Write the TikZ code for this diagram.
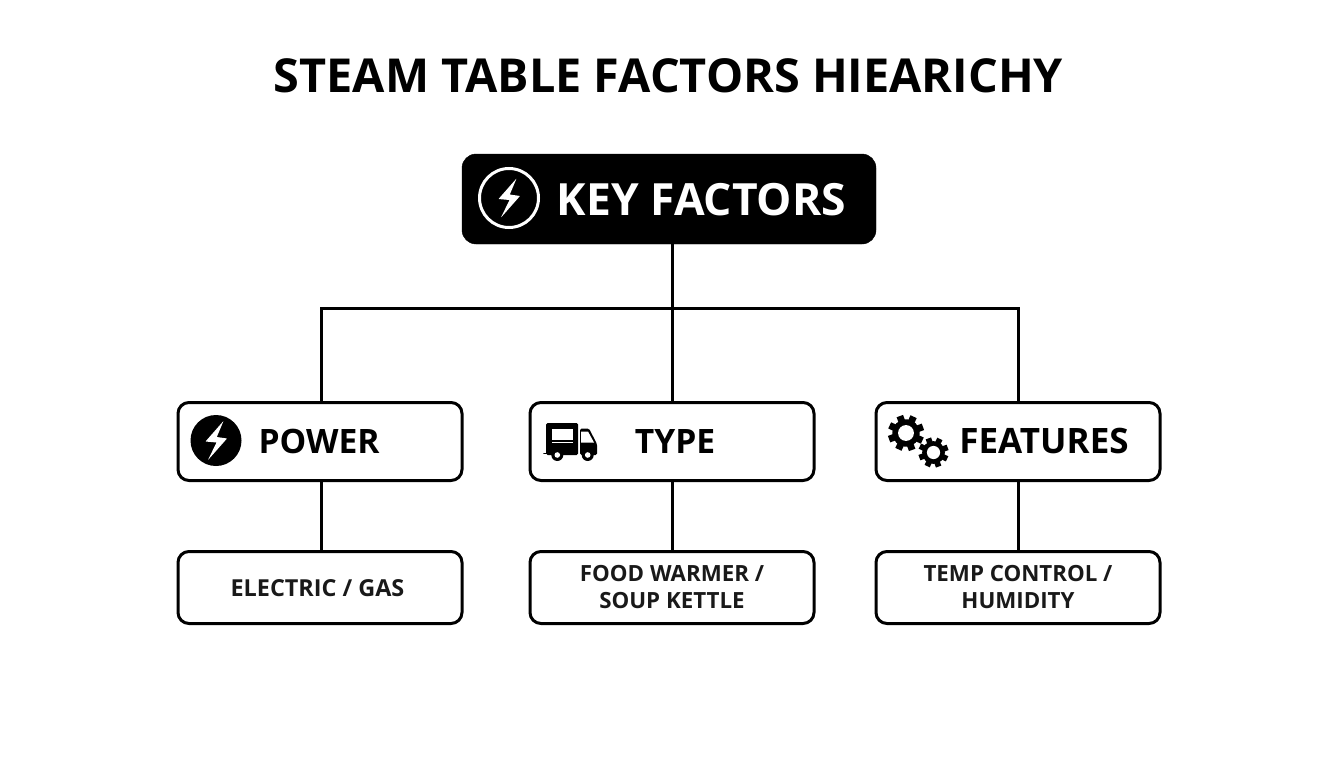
\documentclass[tikz,border=0pt]{standalone}
\usepackage{fontspec}
\setmainfont{Open Sans}
\tikzset{
  x=1pt,y=-1pt,
  wire/.style={line width=3pt,draw=black},
  boxbase/.style={draw=black,line width=3pt,rounded corners=11pt,fill=white,inner sep=0pt,minimum width=284pt},
  midbox/.style={boxbase,minimum height=78pt},
  lowbox/.style={boxbase,minimum height=72pt},
  topbox/.style={fill=black,draw=black,rounded corners=14pt,inner sep=0pt,minimum width=414pt,minimum height=90pt},
  headtext/.style={font=\fontsize{33.6}{40}\selectfont\bfseries,inner sep=0pt},
  subtext/.style={font=\fontsize{22.3}{28}\selectfont\bfseries,align=center,inner sep=0pt,anchor=center,text=black!90},
  titletext/.style={font=\fontsize{46.8}{50}\selectfont\bfseries,inner sep=0pt}
}
\newcommand{\boltshape}[3]{% x y colour
  \fill[#3,rounded corners=0.4pt] (#1+7.5,#2-19.5)--(#1-10.5,#2+1)--(#1+0.5,#2+2)--(#1-8,#2+19.5)--(#1+11,#2-2)--(#1+0.8,#2-3.5)--cycle;}
\newcommand{\gearshape}[3]{% x y r
  \fill[black] (#1,#2) circle[radius=0.76*#3];
  \foreach \a in {0,45,...,315}{
    \fill[black,rotate around={\a+20:(#1,#2)}] (#1-0.19*#3,#2-#3)rectangle(#1+0.19*#3,#2-0.6*#3);}
  \fill[white] (#1,#2) circle[radius=0.44*#3];}
\begin{document}
\begin{tikzpicture}
\useasboundingbox (0,0) rectangle (1344,768);
\fill[white] (0,0) rectangle (1344,768);
\node[titletext] (title) at (668.5,75.8) {STEAM TABLE FACTORS HIEARICHY};
\node[topbox] (key) at (669,199) {};
\node[midbox] (power) at (320,441.5) {};
\node[midbox] (type) at (672,441.5) {};
\node[midbox] (features) at (1018,441.5) {};
\node[lowbox] (elec) at (320,587.5) {};
\node[lowbox] (food) at (672,587.5) {};
\node[lowbox] (temp) at (1018,587.5) {};
\coordinate (bus) at (672,308);
\coordinate (pn) at ([xshift=1.5pt]power.north);
\coordinate (ps) at ([xshift=1.5pt]power.south);
\coordinate (en) at ([xshift=1.5pt]elec.north);
\draw[wire] (key.south -| type.north) -- (type.north);
\draw[wire] (pn) -- (pn |- bus) -- (features.north |- bus) -- (features.north);
\draw[wire] (ps) -- (en);
\draw[wire] (type.south) -- (food.north);
\draw[wire] (features.south) -- (temp.north);
\node[headtext,text=white,font=\fontsize{44.4}{50}\selectfont\bfseries] (keyt) at (701.5,199.5) {KEY FACTORS};
\node[headtext] (powert) at (319,441) {POWER};
\node[headtext] (typet) at (675,441.8) {TYPE};
\node[headtext,font=\fontsize{35}{40}\selectfont\bfseries] (featt) at (1044,441) {FEATURES};
\node[subtext,font=\fontsize{23.4}{28}\selectfont\bfseries] (elect) at (317.5,588) {ELECTRIC / GAS};
\node[subtext] (foodt) at (672,587) {FOOD WARMER /\\[-0.5pt]SOUP KETTLE};
\node[subtext] (tempt) at (1018,587) {TEMP CONTROL /\\[-0.5pt]HUMIDITY};
% key icon
\draw[white,line width=3pt] (509,198) circle[radius=29.5];
\boltshape{509}{198}{white}
% power icon
\fill[black] (216,440.5) circle[radius=25.5];
\boltshape{216}{440.5}{white}
% truck
\fill[black,rounded corners=1.5pt] (546,423) rectangle (578,455);
\fill[white] (551.5,428.5) rectangle (573,440);
\fill[white] (551.5,441.5) rectangle (573,443);
\fill[black,rounded corners=1.5pt] (580,428.5) -- (589,428.5) -- (597,444) -- (597,455) -- (580,455) -- cycle;
\fill[white] (581,431.5) -- (588,431.5) -- (594,442.5) -- (581,442.5) -- cycle;
\draw[black,line width=1.6pt,line cap=round] (544,453.5) -- (550,453.5);
\foreach \wx in {557.3,587.7}{
  \fill[black] (\wx,455) circle[radius=6];
  \fill[white] (\wx,455) circle[radius=2.8];
}
% gears
\gearshape{906}{433}{18}
\gearshape{933.5}{452.5}{15}
\end{tikzpicture}
\end{document}
